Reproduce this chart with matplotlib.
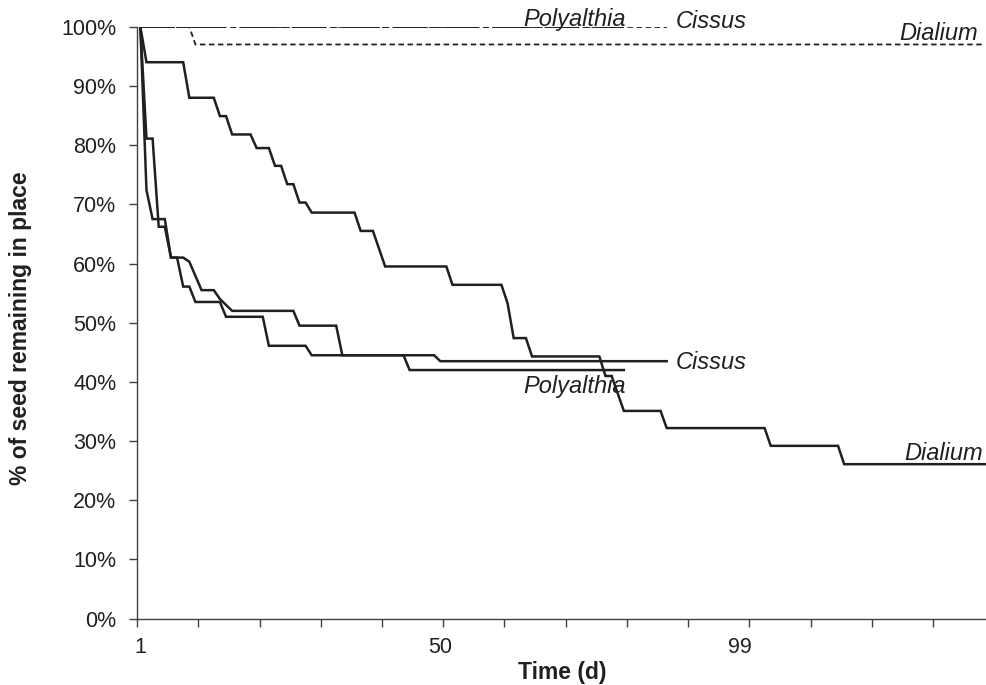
import matplotlib
matplotlib.use("Agg")
import matplotlib.pyplot as plt
from matplotlib import font_manager
from matplotlib.ticker import FixedLocator, FuncFormatter

plt.rcParams['font.family'] = ['Liberation Sans', 'DejaVu Sans']

# seed removal curves (day, % remaining) - vertices
dialium_days = [1, 2, 8, 9, 13, 14, 15, 16, 19, 20, 22, 23, 24, 25, 26, 27, 28, 29,
                36, 37, 39, 41, 51, 52, 60, 61, 62, 64, 65, 76, 77, 78, 80, 86, 87,
                103, 104, 115, 116, 139]
dialium_pct = [100, 94.0, 94.0, 88.0, 88.0, 84.9, 84.9, 81.8, 81.8, 79.5, 79.5, 76.5,
               76.5, 73.4, 73.4, 70.3, 70.3, 68.6, 68.6, 65.5, 65.5, 59.5, 59.5, 56.4,
               56.4, 53.3, 47.4, 47.4, 44.3, 44.3, 41.0, 41.0, 35.1, 35.1, 32.2, 32.2,
               29.2, 29.2, 26.1, 26.1]

poly_days = [1, 2, 3, 4, 5, 6, 7, 8, 9, 10, 14, 15, 21, 22, 28, 29, 44, 45, 80]
poly_pct = [100, 81.1, 81.1, 66.2, 66.2, 61.0, 61.0, 56.1, 56.1, 53.5, 53.5, 51.0,
            51.0, 46.1, 46.1, 44.5, 44.5, 42.0, 42.0]

cissus_days = [1, 2, 3, 5, 6, 8, 9, 11, 13, 14, 16, 26, 27, 33, 34, 49, 50, 87]
cissus_pct = [100, 72.4, 67.5, 67.5, 61.0, 61.0, 60.3, 55.5, 55.5, 54.0, 52.0, 52.0,
              49.5, 49.5, 44.5, 44.5, 43.5, 43.5]

# controls
dialium_ctrl_days = [1, 9, 10, 139]
dialium_ctrl_pct = [100, 100, 97, 97]
cissus_ctrl_days = [1, 87]
cissus_ctrl_pct = [100, 100]
poly_ctrl_days = [1, 80]
poly_ctrl_pct = [100, 100]

n_days = 139
x_labels = [1, 50, 99]
y_ticks = list(range(0, 101, 10))

ink = '#231f20'

# plain (not narrow) Liberation Sans Bold for the axis titles
bold_font = None
for f in font_manager.fontManager.ttflist:
    if f.name == 'Liberation Sans' and f.weight in (700, 'bold') and f.style == 'normal':
        bold_font = font_manager.FontProperties(fname=f.fname, size=16.5)
        break
if bold_font is None:
    bold_font = font_manager.FontProperties(family='Liberation Sans', weight='bold',
                                            stretch='normal', size=16.5)

fig = plt.figure(figsize=(9.87, 6.85), dpi=100)
ax = fig.add_axes([0.1391, 0.0968, 0.8619, 0.8642])

ax.plot(dialium_days, dialium_pct, color=ink, lw=1.8, solid_joinstyle='miter')
ax.plot(poly_days, poly_pct, color=ink, lw=1.8, solid_joinstyle='miter')
ax.plot(cissus_days, cissus_pct, color=ink, lw=1.8, solid_joinstyle='miter')

ax.plot(dialium_ctrl_days, dialium_ctrl_pct, color=ink, lw=1.3, dashes=(3.0, 2.0))
ax.plot(cissus_ctrl_days, cissus_ctrl_pct, color=ink, lw=1.3, dashes=(3.0, 2.0))
ax.plot(poly_ctrl_days, poly_ctrl_pct, color=ink, lw=1.4, dashes=(18, 2.5, 3, 2.5))

# species labels
lab = dict(fontsize=17, style='italic', color=ink)
ax.text(63.5, 100.2, 'Polyalthia', ha='left', va='baseline', **lab)
ax.text(88.4, 99.8, 'Cissus', ha='left', va='baseline', **lab)
ax.text(137.9, 97.7, 'Dialium', ha='right', va='baseline', **lab)
ax.text(88.4, 42.2, 'Cissus', ha='left', va='baseline', **lab)
ax.text(63.6, 38.1, 'Polyalthia', ha='left', va='baseline', **lab)
ax.text(138.6, 26.8, 'Dialium', ha='right', va='baseline', **lab)

ax.set_xlim(0.5, n_days + 0.5)
ax.set_ylim(0, 100)

ax.xaxis.set_major_locator(FixedLocator(x_labels))
ax.xaxis.set_minor_locator(FixedLocator([0.5 + 10 * k for k in range(14)]))
ax.tick_params(axis='x', which='major', length=0, pad=13, labelsize=15.5, labelcolor=ink)
ax.tick_params(axis='x', which='minor', length=6, width=1, color='#404040', direction='out')

ax.yaxis.set_major_locator(FixedLocator(y_ticks))
ax.yaxis.set_major_formatter(FuncFormatter(lambda v, p: f"{int(v)}%"))
ax.tick_params(axis='y', length=6, width=1, color='#404040', pad=9, labelsize=15.5,
               labelcolor=ink, direction='out')

for s in ['top', 'right']:
    ax.spines[s].set_visible(False)
for s in ['left', 'bottom']:
    ax.spines[s].set_color('#404040')
    ax.spines[s].set_linewidth(1)

ax.set_xlabel('Time (d)', fontproperties=bold_font, color=ink, labelpad=2)
ax.set_ylabel('% of seed remaining in place', fontproperties=bold_font, color=ink)
ax.yaxis.set_label_coords(-0.124, 0.49)

fig.savefig('out.png', dpi=100)
